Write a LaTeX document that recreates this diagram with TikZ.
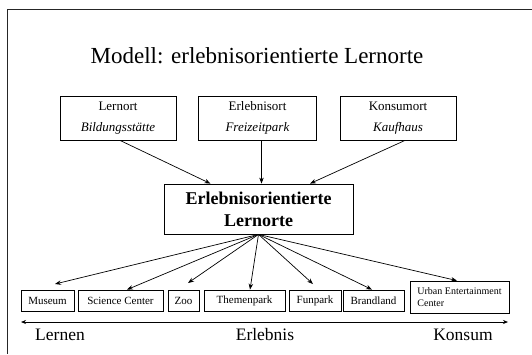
\documentclass[tikz,border=0pt]{standalone}
\usepackage{fontspec}
\setmainfont{Liberation Serif}
\usetikzlibrary{arrows.meta}
\begin{document}
\begin{tikzpicture}[x=1pt,y=-1pt,
  topbox/.style={draw,line width=0.8pt,minimum width=116pt,minimum height=44pt,inner sep=0pt,align=center,font=\fontsize{13}{21}\selectfont},
  botbox/.style={draw,line width=0.8pt,minimum height=21pt,inner sep=0pt,font=\fontsize{11}{13}\selectfont},
  arr/.style={-{Stealth[length=6pt,width=4.5pt]},line width=0.7pt},
  axislabel/.style={font=\fontsize{17.5}{20}\selectfont,anchor=base}]
\useasboundingbox (0,0) rectangle (532,354);
\draw[line width=1.6pt,black!85] (532,9.5) -- (7.5,9.5) -- (7.5,354);

\node[anchor=base,font=\fontsize{23}{26}\selectfont] (title) at (257,63) {Modell: erlebnisorientierte Lernorte};

\node[topbox] (lern) at (118,118) {Lernort\\\textit{Bildungsstätte}};
\node[topbox,minimum width=118pt] (erl) at (257.5,118) {Erlebnisort\\\textit{Freizeitpark}};
\node[topbox] (kons) at (398,118) {Konsumort\\\textit{Kaufhaus}};

\node[draw,line width=0.8pt,minimum width=189pt,minimum height=50pt,inner sep=0pt,align=center,font=\fontsize{18}{22}\selectfont\bfseries] (mid) at (258.5,209) {Erlebnisorientierte\\Lernorte};

\draw[arr] ([xshift=2pt]lern.south) -- ([xshift=-48pt]mid.north);
\draw[arr] ([xshift=4pt]erl.south) -- ([xshift=3pt]mid.north);
\draw[arr] ([xshift=7pt]kons.south) -- ([xshift=51.5pt]mid.north);

\node[botbox,minimum width=53pt] (mus) at (47.5,300.5) {Museum};
\node[botbox,minimum width=85pt] (sc) at (120.5,300.5) {Science Center};
\node[botbox,minimum width=31pt] (zoo) at (183.5,300.5) {Zoo};
\node[botbox,minimum width=81pt] (tp) at (244.5,300.5) {Themenpark};
\node[botbox,minimum width=52pt] (fun) at (315,300.5) {Funpark};
\node[botbox,minimum width=61pt] (bl) at (373.5,300.5) {Brandland};
\node[draw,line width=0.8pt,minimum width=99pt,minimum height=32pt,inner sep=0pt,align=left,font=\fontsize{10}{12}\selectfont] (uec) at (459.5,297) {Urban Entertainment\\Center};

\coordinate (hub) at (mid.south);
\coordinate (tMus) at (55,284);
\coordinate (tZoo) at (188,283);
\coordinate (tFun) at (313,284);

\draw[arr] (hub) -- (tMus);
\draw[arr] (hub) -- ([xshift=6.5pt]sc.north);
\draw[arr] (hub) -- (tZoo);
\draw[arr] (hub) -- ([xshift=5.5pt]tp.north);
\draw[arr] (hub) -- (tFun);
\draw[arr] (hub) -- ([xshift=-1.5pt]bl.north);
\draw[arr] (hub) -- ([xshift=-2.5pt]uec.north);

\coordinate (axL) at (21,322);
\coordinate (axR) at (508,322);
\draw[{Stealth[length=5pt,width=4pt]}-{Stealth[length=5pt,width=4pt]},line width=0.7pt] (axL) -- (axR);

\node[axislabel] (lernen) at (60,340) {Lernen};
\node[axislabel] (erlebnis) at (265,340) {Erlebnis};
\node[axislabel] (konsum) at (463,340) {Konsum};
\end{tikzpicture}
\end{document}
